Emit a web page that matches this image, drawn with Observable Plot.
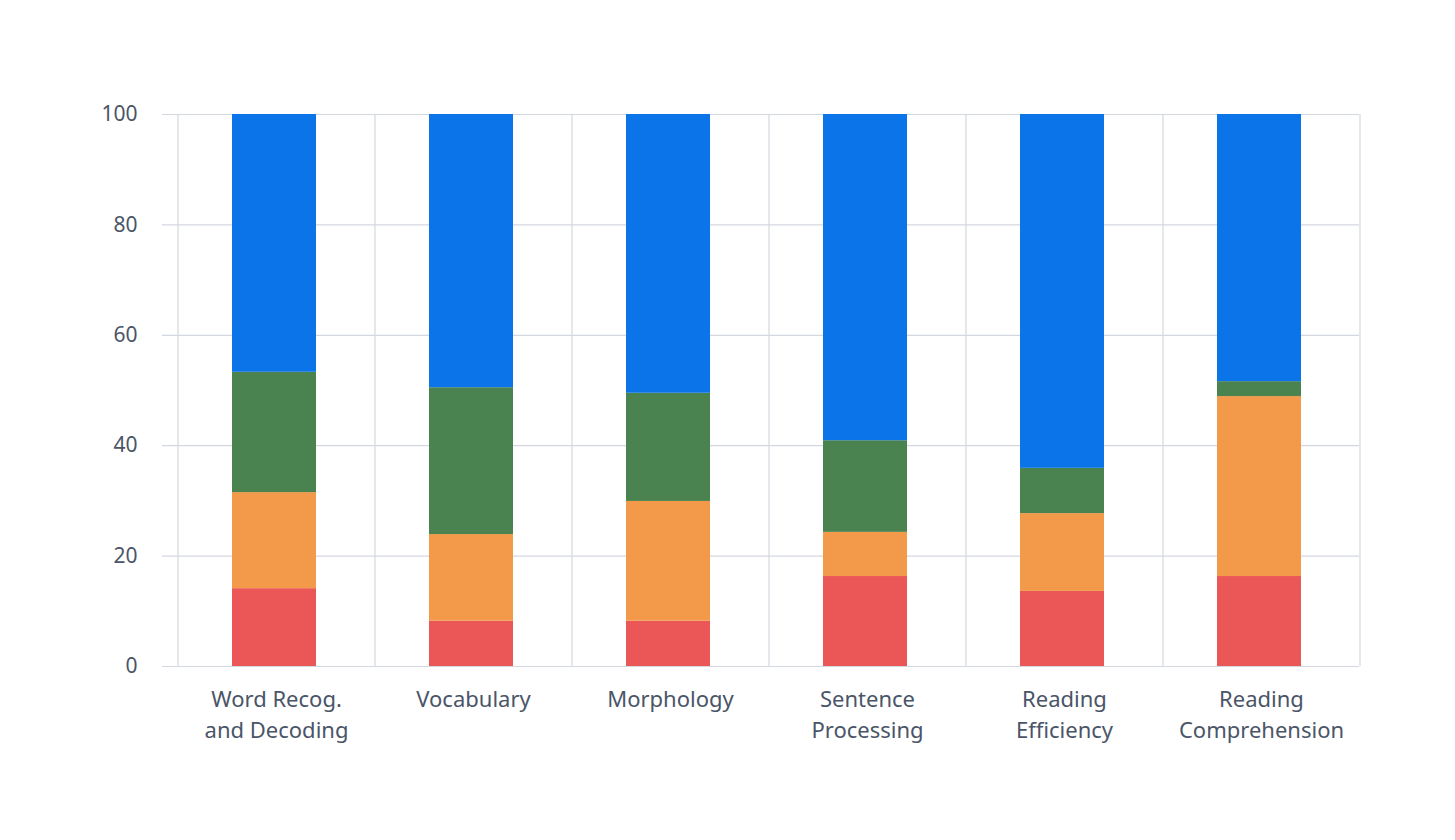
<!DOCTYPE html>
<html>
<head>
<meta charset="utf-8">
<script src="https://cdn.jsdelivr.net/npm/d3@7"></script>
<script src="https://cdn.jsdelivr.net/npm/@observablehq/plot@0.6"></script>
<style>
  html, body { margin: 0; padding: 0; background: #fff; }
  #chart svg { display: block; }
</style>
</head>
<body>
<div id="chart"></div>
<script>
const categories = ["Word Recog.\nand Decoding", "Vocabulary", "Morphology", "Sentence\nProcessing", "Reading\nEfficiency", "Reading\nComprehension"];
const seriesNames = ["Level 1", "Level 2", "Level 3", "Level 4"];
const level1Values = [14.1, 8.2, 8.2, 16.3, 13.6, 16.3];
const level2Values = [17.4, 15.7, 21.7, 8.0, 14.1, 32.6];
const level3Values = [21.8, 26.6, 19.6, 16.6, 8.2, 2.7];
const level4Values = [46.7, 49.5, 50.5, 59.1, 64.1, 48.4];
const colors = ["#eb5757", "#f29a4a", "#4a834f", "#0b74e9"];
const yTicks = [0, 20, 40, 60, 80, 100];

const allSeries = [level1Values, level2Values, level3Values, level4Values];
const rows = [];
categories.forEach((c, i) => {
  allSeries.forEach((vals, s) => rows.push({category: c, series: seriesNames[s], value: vals[i]}));
});

const W = 1455, H = 840;
const mLeft = 162, mRight = 96, mTop = 114, mBottom = 174;
const xRange = [177, W - mRight];
const step = (xRange[1] - xRange[0]) / categories.length;
const textColor = "#4a5568";
const gridColor = "#d3d8e0";

const chart = Plot.plot({
  width: W,
  height: H,
  marginLeft: mLeft,
  marginRight: mRight,
  marginTop: mTop,
  marginBottom: mBottom,
  style: {fontFamily: "'Noto Sans', sans-serif", color: textColor, background: "#fff"},
  x: {domain: categories, range: xRange, paddingInner: 0.574, paddingOuter: 0.287},
  y: {domain: [0, 100]},
  color: {domain: seriesNames, range: colors},
  marks: [
    Plot.ruleY(yTicks, {y: d => d, stroke: gridColor, strokeWidth: 1.2}),
    Plot.ruleX(categories, {x: d => d, dx: -step / 2, y1: 0, y2: 100, stroke: gridColor, strokeWidth: 1.2}),
    Plot.ruleX([categories[categories.length - 1]], {x: d => d, dx: step / 2, y1: 0, y2: 100, stroke: gridColor, strokeWidth: 1.2}),
    Plot.barY(rows, Plot.stackY({order: seriesNames, x: "category", y: "value", fill: "series", dx: -2})),
    Plot.axisY({ticks: yTicks, tickSize: 0, tickPadding: 25, fontSize: 21, label: null, fill: textColor}),
    Plot.axisX({tickSize: 0, tickPadding: 19, fontSize: 22, lineHeight: 1.4, label: null, fill: textColor})
  ]
});
document.getElementById("chart").appendChild(chart);
</script>
</body>
</html>
